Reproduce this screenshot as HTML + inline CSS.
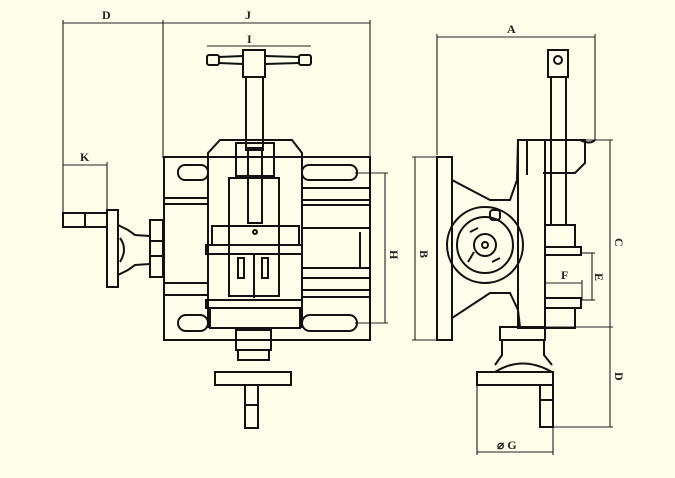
<!DOCTYPE html>
<html><head><meta charset="utf-8"><style>
html,body{margin:0;padding:0;background:#fdfde9;}
svg{display:block;}
text{font-family:"Liberation Serif",serif;font-size:12px;fill:#222;font-weight:bold;}
</style></head><body>
<svg width="675" height="478" viewBox="0 0 675 478">
<rect width="675" height="478" fill="#fdfde9"/>
<g fill="none" stroke="#222" stroke-width="1.1">
<line x1="63" y1="23" x2="370" y2="23"/>
<line x1="63" y1="20" x2="63" y2="228"/>
<line x1="163" y1="20" x2="163" y2="158"/>
<line x1="370" y1="20" x2="370" y2="158"/>
<line x1="207" y1="46" x2="311" y2="46"/>
<line x1="63" y1="165" x2="107" y2="165"/>
<line x1="107" y1="162" x2="107" y2="212"/>
<line x1="385" y1="173" x2="385" y2="323"/>
<line x1="355" y1="173" x2="388" y2="173"/>
<line x1="355" y1="323" x2="388" y2="323"/>
</g>
<g fill="none" stroke="#111" stroke-width="2">
<rect x="207" y="55" width="12" height="10" rx="2"/>
<rect x="299" y="55" width="12" height="10" rx="2"/>
<path d="M219 57 L243 56 M219 63 L243 64 M299 57 L265 56 M299 63 L265 64"/>
<rect x="243" y="50" width="22" height="27"/>
<rect x="246" y="77" width="17" height="73"/>
<rect x="164" y="157" width="206" height="183"/>
<rect x="178" y="165" width="30" height="15" rx="7"/>
<rect x="302" y="165" width="55" height="15" rx="7"/>
<rect x="178" y="315" width="30" height="16" rx="8"/>
<rect x="302" y="315" width="55" height="16" rx="8"/>
<line x1="164" y1="198" x2="207" y2="198"/><line x1="164" y1="204" x2="207" y2="204"/>
<line x1="302" y1="188" x2="370" y2="188"/><line x1="302" y1="200" x2="370" y2="200"/><line x1="302" y1="205" x2="370" y2="205"/>
<line x1="164" y1="283" x2="207" y2="283"/><line x1="164" y1="295" x2="207" y2="295"/>
<line x1="302" y1="278" x2="370" y2="278"/><line x1="302" y1="290" x2="370" y2="290"/><line x1="302" y1="297" x2="370" y2="297"/>
<rect x="302" y="228" width="68" height="40"/>
<line x1="360" y1="232" x2="360" y2="268"/>
<path d="M208 328 L208 153 L220 140 L292 140 L302 153 L302 328"/>
<rect x="236" y="143" width="38" height="33"/>
<rect x="229" y="178" width="50" height="118"/>
<rect x="248" y="148" width="14" height="75"/>
<rect x="212" y="226" width="87" height="19"/>
<rect x="206" y="245" width="96" height="9"/>
<rect x="238" y="258" width="6" height="20"/><rect x="262" y="258" width="6" height="20"/>
<line x1="254" y1="255" x2="254" y2="298"/>
<rect x="206" y="300" width="96" height="8"/>
<rect x="210" y="308" width="90" height="20"/>
<circle cx="255" cy="232" r="2"/>
<rect x="63" y="213" width="44" height="14"/>
<line x1="85" y1="213" x2="85" y2="227"/>
<rect x="107" y="210" width="11" height="77"/>
<path d="M118 225 L128 230 L135 235 L150 236 L150 264 L135 265 L128 270 L118 275"/>
<path d="M120 238 Q128 249 120 262"/>
<rect x="150" y="220" width="13" height="57"/>
<line x1="150" y1="241" x2="163" y2="241"/><line x1="150" y1="256" x2="163" y2="256"/>
<rect x="236" y="330" width="35" height="20"/>
<rect x="238" y="350" width="31" height="10"/>
<rect x="215" y="372" width="76" height="13"/>
<rect x="245" y="385" width="13" height="43"/>
<line x1="245" y1="405" x2="258" y2="405"/>
</g>
<g fill="none" stroke="#222" stroke-width="1.1">
<line x1="437" y1="37" x2="595" y2="37"/>
<line x1="437" y1="34" x2="437" y2="155"/>
<line x1="595" y1="34" x2="595" y2="140"/>
<line x1="415" y1="157" x2="415" y2="340"/>
<line x1="412" y1="157" x2="437" y2="157"/><line x1="412" y1="340" x2="437" y2="340"/>
<line x1="610" y1="140" x2="610" y2="427"/>
<line x1="575" y1="140" x2="613" y2="140"/>
<line x1="545" y1="327" x2="613" y2="327"/>
<line x1="553" y1="427" x2="613" y2="427"/>
<line x1="592" y1="253" x2="592" y2="300"/>
<line x1="580" y1="253" x2="595" y2="253"/><line x1="580" y1="300" x2="595" y2="300"/>
<line x1="545" y1="283" x2="582" y2="283"/><line x1="582" y1="280" x2="582" y2="300"/>
<line x1="477" y1="452" x2="553" y2="452"/>
<line x1="477" y1="385" x2="477" y2="455"/><line x1="553" y1="427" x2="553" y2="455"/>
</g>
<g fill="none" stroke="#111" stroke-width="2">
<rect x="437" y="157" width="15" height="183"/>
<path d="M452 157 L452 180 L490 200 L510 200 L517 180 L518 140"/>
<path d="M452 340 L452 318 L490 293 L510 293 L518 310 L520 327"/>
<circle cx="485" cy="245" r="38"/>
<circle cx="485" cy="245" r="28"/>
<circle cx="485" cy="245" r="11"/>
<circle cx="485" cy="245" r="3"/>
<path d="M470 232 L478 228 M500 258 L492 262 M468 262 L474 252"/>
<rect x="490" y="210" width="10" height="10" rx="3"/>
<rect x="518" y="140" width="27" height="188"/>
<line x1="527" y1="140" x2="527" y2="175"/>
<rect x="548" y="50" width="20" height="27"/>
<circle cx="558" cy="60" r="4"/>
<rect x="551" y="77" width="15" height="148"/>
<path d="M543 140 L585 140 L585 163 L575 173 L543 173"/>
<path d="M580 140 Q590 145 595 140"/>
<rect x="545" y="225" width="30" height="22"/>
<rect x="545" y="247" width="36" height="8"/>
<rect x="545" y="298" width="36" height="10"/>
<rect x="545" y="308" width="30" height="20"/>
<rect x="500" y="327" width="45" height="13"/>
<path d="M502 340 L502 355 L495 365 M544 340 L544 355 L552 365"/>
<path d="M495 372 Q522 355 552 372"/>
<rect x="477" y="372" width="76" height="13"/>
<rect x="540" y="385" width="13" height="42"/>
<line x1="540" y1="400" x2="553" y2="400"/>
</g>
<text x="102" y="19">D</text>
<text x="245" y="19">J</text>
<text x="247" y="43">I</text>
<text x="80" y="161">K</text>
<text x="507" y="33">A</text>
<text x="561" y="279">F</text>
<text x="497" y="449">⌀ G</text>
<text transform="translate(390,250) rotate(90)">H</text>
<text transform="translate(420,250) rotate(90)">B</text>
<text transform="translate(615,238) rotate(90)">C</text>
<text transform="translate(595,273) rotate(90)">E</text>
<text transform="translate(615,372) rotate(90)">D</text>
</svg>
</body></html>
